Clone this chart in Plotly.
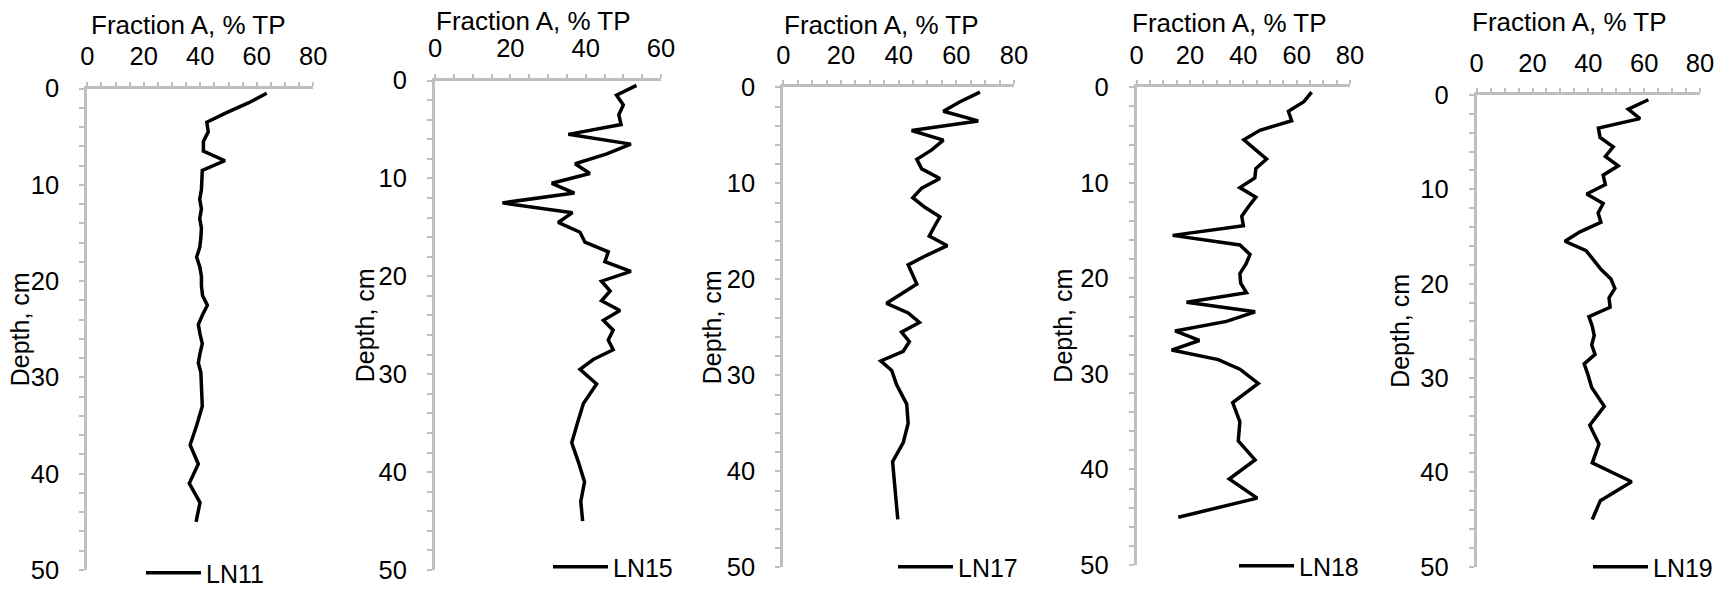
import plotly.graph_objects as go

# ---------------- data ----------------
depth_cm = [0.5, 1.5, 2.5, 3.5, 4.5, 5.5, 6.5, 7.5, 8.5, 9.5,
            10.5, 11.5, 12.5, 13.5, 14.5, 15.5, 16.5, 17.5, 18.5, 19.5,
            20.5, 21.5, 22.5, 23.5, 24.5, 25.5, 26.5, 27.5, 28.5, 29.5,
            31, 33, 35, 37, 39, 41, 43, 45]

LN11 = [63.5, 57, 49.3, 42.3, 42.8, 41.1, 41.1, 48.7, 40.7, 40.7,
        40.4, 39.8, 40.4, 39.8, 40.4, 40.2, 39.8, 38.7, 39.8, 40.4,
        40.4, 40.8, 42.5, 40.8, 39.3, 39.9, 40.7, 39.9, 39.3, 40.2,
        40.3, 40.7, 38.7, 36.4, 39.3, 36.1, 39.9, 38.5]
LN15 = [53.5, 48.2, 50, 48.8, 49.4, 35.4, 52, 45.6, 37.2, 41.1,
        31, 37, 17.9, 36.5, 32.7, 38.5, 39.8, 46, 45.1, 52,
        44.2, 46.5, 44.2, 49.1, 44.7, 47.3, 46, 47.3, 42, 38.5,
        42.9, 39.4, 37.8, 36.3, 38.1, 39.7, 38.7, 39.2]
LN17 = [68.2, 61.3, 55.5, 67.6, 44.5, 55.5, 51.6, 46.3, 48, 54.3,
        48, 44.9, 49.1, 54.3, 52.4, 50.6, 56.9, 49.7, 43.3, 44.9,
        46.3, 41, 35.8, 43.3, 47.2, 41, 43.7, 41.6, 33.8, 37.6,
        39.3, 42.8, 43.3, 41.6, 37.9, 38.5, 39.1, 39.7]
LN18 = [65.6, 62.7, 56.9, 58.1, 46.2, 40.2, 44.4, 48.7, 44.7, 44.3,
        38.7, 44.7, 41.9, 39.4, 40, 13.5, 38.7, 42.5, 41, 38.7,
        39, 41.2, 18.7, 44.4, 33.7, 14.4, 23.5, 13.1, 30.6, 38.7,
        45.6, 36, 38.7, 38.1, 44.4, 34.7, 45.2, 15.6]
LN19 = [61.5, 54.3, 58.5, 43.6, 44.2, 48.9, 46.1, 50.7, 45.3, 46.1,
        39.4, 45.3, 43.5, 44.5, 37, 31.6, 39.2, 41.8, 44.6, 48.1,
        49.5, 47.4, 47.8, 40.2, 41.4, 42.1, 41.2, 42.4, 38.5, 39.7,
        41.2, 45.7, 40.5, 43.8, 41.4, 55.5, 44.3, 41.4]

series_names = ["LN11", "LN15", "LN17", "LN18", "LN19"]
series_values = [LN11, LN15, LN17, LN18, LN19]
x_max = [80, 60, 80, 80, 80]
x_title = "Fraction A, % TP"
y_title = "Depth, cm"

# ---------------- layout (pixel geometry) ----------------
W, H = 1728, 589
# plot area: left, right, top, bottom (px)
areas = [(87.3, 313.3, 88.5, 570.0),
         (435.0, 661.0, 80.5, 570.0),
         (783.3, 1014.0, 87.3, 567.3),
         (1136.7, 1350.0, 87.3, 565.0),
         (1476.7, 1700.0, 95.0, 566.7)]
title_pos = [(188, 25), (533, 20.5), (882, 24.5), (1229, 23), (1569, 22)]
ytitle_x = [20, 365, 712, 1063.5, 1400]
legend_pos = [(141, 573), (548, 567), (893, 567), (1234, 566), (1588, 567)]

FONT = "Liberation Sans, Arial, sans-serif"
AX_COLOR = "#BFBFBF"
TXT = "#000000"

def fx(px):
    return px / W

def fy(py):
    return 1 - py / H

fig = go.Figure()
layout = dict(width=W, height=H,
              margin=dict(l=0, r=0, t=0, b=0, pad=0, autoexpand=False),
              paper_bgcolor="white", plot_bgcolor="white",
              font=dict(family=FONT, size=25, color=TXT),
              showlegend=True, annotations=[])

for i, (name, vals) in enumerate(zip(series_names, series_values)):
    n = i + 1
    sfx = "" if n == 1 else str(n)
    leg = "legend" if n == 1 else f"legend{n}"
    fig.add_trace(go.Scatter(x=vals, y=depth_cm, mode="lines", name=name,
                             line=dict(color="black", width=3.5),
                             xaxis=f"x{sfx}", yaxis=f"y{sfx}", legend=leg))
    l, r, t, b = areas[i]
    layout[f"xaxis{sfx}"] = dict(
        domain=[fx(l), fx(r)], anchor=f"y{sfx}", side="top",
        range=[0, x_max[i]], autorange=False, dtick=20, tick0=0,
        showline=True, linecolor=AX_COLOR, linewidth=3,
        ticks="outside", ticklen=4, tickwidth=2, tickcolor=AX_COLOR,
        minor=dict(ticks="outside", dtick=5, ticklen=4, tickwidth=2, tickcolor=AX_COLOR),
        showgrid=False, zeroline=False, ticklabelstandoff=6,
        tickfont=dict(size=25.5, color=TXT, family=FONT))
    layout[f"yaxis{sfx}"] = dict(
        domain=[fy(b), fy(t)], anchor=f"x{sfx}",
        range=[50, 0], autorange=False, dtick=10, tick0=0,
        showline=True, linecolor=AX_COLOR, linewidth=3,
        ticks="outside", ticklen=5, tickwidth=2, tickcolor=AX_COLOR,
        minor=dict(ticks="outside", dtick=2, ticklen=5, tickwidth=2, tickcolor=AX_COLOR),
        showgrid=False, zeroline=False, ticklabelstandoff=15,
        tickfont=dict(size=25.5, color=TXT, family=FONT))
    tx, ty = title_pos[i]
    layout["annotations"].append(dict(
        text=x_title, x=fx(tx), y=fy(ty), xref="paper", yref="paper",
        xanchor="center", yanchor="middle", showarrow=False,
        font=dict(size=26, color=TXT, family=FONT)))
    layout["annotations"].append(dict(
        text=y_title, x=fx(ytitle_x[i]), y=fy((t + b) / 2), xref="paper", yref="paper",
        xanchor="center", yanchor="middle", showarrow=False, textangle=-90,
        font=dict(size=25, color=TXT, family=FONT)))
    lx, ly = legend_pos[i]
    layout[leg] = dict(x=fx(lx), y=fy(ly), xanchor="left", yanchor="middle",
                       bgcolor="rgba(0,0,0,0)", borderwidth=0, itemwidth=55,
                       font=dict(size=25, color=TXT, family=FONT))

fig.update_layout(**layout)
fig.write_html("out.html")
